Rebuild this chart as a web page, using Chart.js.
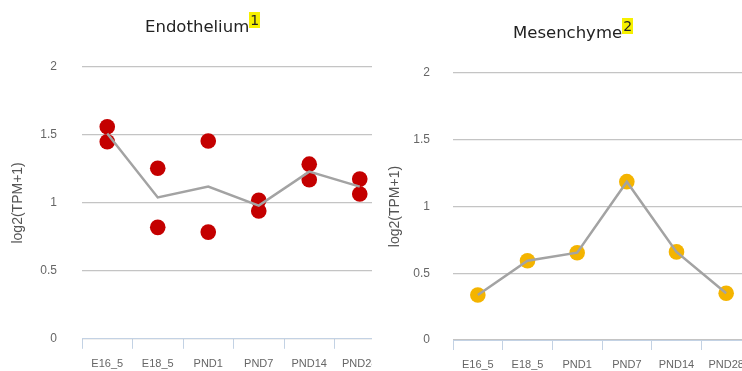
<!DOCTYPE html>
<html>
<head>
<meta charset="utf-8">
<script src="https://cdn.jsdelivr.net/npm/chart.js@4/dist/chart.umd.min.js"></script>
<style>
    body { margin: 0; background: #fff; width: 742px; height: 371px; overflow: hidden; position: relative; }
    .panel { position: absolute; top: 0; height: 371px; overflow: hidden; }
    .panel canvas { position: absolute; left: 0; top: 0; }
    .title { position: absolute; font-family: "DejaVu Sans", sans-serif; font-size: 16.5px; color: #222; white-space: nowrap; line-height: 20px; }
    .title sup { background: #f6f000; font-size: 14px; line-height: 14px; padding: 0 1px; vertical-align: 7px; }
</style>
</head>
<body>
<div class="panel" style="left:0;width:372px;">
    <canvas id="endoChart" width="400" height="371"></canvas>
</div>
<div class="panel" style="left:380px;width:362px;">
    <canvas id="mesChart" width="385" height="371"></canvas>
</div>
<div class="title" style="left:145px;top:13px;">Endothelium<sup>1</sup></div>
<div class="title" style="left:513px;top:19px;">Mesenchyme<sup>2</sup></div>

<script>
const stages = ["E16_5", "E18_5", "PND1", "PND7", "PND14", "PND28"];
const yTicks = [0, 0.5, 1, 1.5, 2];

// Endothelium: two replicates plus their mean
const endoRep1 = [1.56, 1.255, 1.455, 1.02, 1.285, 1.175];
const endoRep2 = [1.45, 0.82, 0.785, 0.94, 1.17, 1.065];
const endoMean = [1.51, 1.04, 1.12, 0.98, 1.23, 1.12];

// Mesenchyme: single sample
const mesValues = [0.337, 0.594, 0.654, 1.186, 0.66, 0.35];

const axisBlue = '#c3d2e4';
const gridGrey = '#c4c4c4';
const lineGrey = '#a3a3a3';

function dotSet(values, color) {
    return {
        data: values,
        showLine: false,
        pointRadius: 7.8,
        pointHoverRadius: 7.8,
        pointBackgroundColor: color,
        pointBorderWidth: 0,
        order: 2
    };
}

function meanSet(values) {
    return {
        data: values,
        borderColor: lineGrey,
        borderWidth: 2.5,
        pointRadius: 0,
        fill: false,
        tension: 0,
        order: 0
    };
}

function makeChart(id, datasets, box) {
    return new Chart(document.getElementById(id), {
        type: 'line',
        data: { labels: stages, datasets: datasets },
        options: {
            responsive: false,
            animation: false,
            events: [],
            layout: { padding: { left: 0, top: box.top, right: box.right, bottom: 0 } },
            plugins: { legend: { display: false }, tooltip: { enabled: false } },
            scales: {
                x: {
                    offset: true,
                    afterFit: s => { s.height = box.xHeight; },
                    grid: { offset: true, drawOnChartArea: false, color: axisBlue, tickLength: 10 },
                    border: { color: axisBlue, width: 1 },
                    ticks: { color: '#666', font: { family: 'Liberation Sans', size: 11 }, padding: box.xPad, autoSkip: false, maxRotation: 0 }
                },
                y: {
                    min: 0,
                    max: 2,
                    afterFit: s => { s.width = box.yWidth; },
                    afterBuildTicks: s => { s.ticks = yTicks.map(v => ({ value: v })); },
                    grid: { color: gridGrey, lineWidth: 1.2, drawTicks: false },
                    border: { display: false },
                    ticks: {
                        color: '#666',
                        font: { family: 'Liberation Sans', size: 12 },
                        padding: box.tickPad,
                        callback: v => String(v)
                    },
                    title: {
                        display: true,
                        text: 'log2(TPM+1)',
                        color: '#555',
                        font: { family: 'Liberation Sans', size: 14 },
                        padding: { top: box.titlePad, bottom: 0 }
                    }
                }
            }
        }
    });
}

makeChart('endoChart', [
    meanSet(endoMean),
    dotSet(endoRep1, '#c40000'),
    dotSet(endoRep2, '#c40000')
], { top: 67, right: 15, xHeight: 32, yWidth: 82, tickPad: 25, titlePad: 10, xPad: 9 });

makeChart('mesChart', [
    meanSet(mesValues),
    dotSet(mesValues, '#f4b400')
], { top: 73, right: 14, xHeight: 31, yWidth: 73, tickPad: 23, titlePad: 7, xPad: 8 });
</script>
</body>
</html>
